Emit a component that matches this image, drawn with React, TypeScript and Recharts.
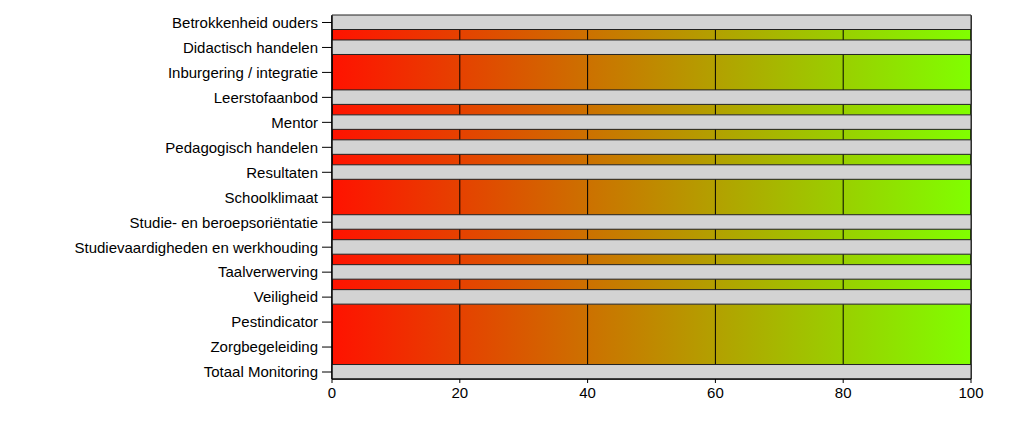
import React from "react";
import {
  BarChart,
  Bar,
  XAxis,
  YAxis,
  CartesianGrid,
  ReferenceArea,
} from "recharts";

const categories: string[] = [
  "Betrokkenheid ouders",
  "Didactisch handelen",
  "Inburgering / integratie",
  "Leerstofaanbod",
  "Mentor",
  "Pedagogisch handelen",
  "Resultaten",
  "Schoolklimaat",
  "Studie- en beroepsoriëntatie",
  "Studievaardigheden en werkhouding",
  "Taalverwerving",
  "Veiligheid",
  "Pestindicator",
  "Zorgbegeleiding",
  "Totaal Monitoring",
];

// grey "no data" bars (value 100) — null where the colour scale shows through
const greyValues: (number | null)[] = [
  100, 100, null, 100, 100, 100, 100, null, 100, 100, 100, 100, null, null, 100,
];

const xTicks: number[] = [0, 20, 40, 60, 80, 100];

const data = categories.map((name, i) => ({
  idx: i,
  name,
  grey: greyValues[i],
}));

const yTicks = categories.map((_, i) => i);

const FONT = "'Liberation Sans', Arial, sans-serif";

export default function App() {
  return (
    <div style={{ width: 1008, height: 408 }}>
      <BarChart
        width={1008}
        height={408}
        data={data}
        layout="vertical"
        margin={{ top: 7.5, right: 45, bottom: 7, left: 0 }}
      >
        <defs>
          <linearGradient id="scale" x1="0" y1="0" x2="1" y2="0">
            <stop offset="0%" stopColor="#ff1200" />
            <stop offset="100%" stopColor="#80ff00" />
          </linearGradient>
        </defs>
        <CartesianGrid
          horizontal={false}
          vertical={true}
          stroke="#000"
          strokeOpacity={1}
          fill="url(#scale)"
          fillOpacity={1}
        />
        <XAxis
          type="number"
          domain={[0, 100]}
          ticks={xTicks}
          interval={0}
          height={30}
          tickSize={4}
          tickMargin={4}
          axisLine={{ stroke: "#000" }}
          tickLine={{ stroke: "#000" }}
          tick={{ fill: "#000", fontSize: 15, fontFamily: FONT }}
        />
        <YAxis
          type="number"
          dataKey="idx"
          domain={[-0.28, 14.28]}
          ticks={yTicks}
          interval={0}
          width={324}
          tickSize={10}
          tickMargin={4}
          tickFormatter={(v: number) => categories[v] ?? ""}
          axisLine={{ stroke: "#000" }}
          tickLine={{ stroke: "#000" }}
          tick={{ fill: "#000", fontSize: 15, fontFamily: FONT }}
          allowDecimals={false}
        />
        <Bar
          dataKey="grey"
          fill="#d3d3d3"
          stroke="#222"
          strokeWidth={1}
          barSize={14.5}
          isAnimationActive={false}
        />
        <ReferenceArea
          x1={0}
          x2={100}
          y1={-0.28}
          y2={14.28}
          fill="none"
          fillOpacity={0}
          stroke="#000"
          strokeOpacity={1}
          ifOverflow="visible"
        />
      </BarChart>
    </div>
  );
}
